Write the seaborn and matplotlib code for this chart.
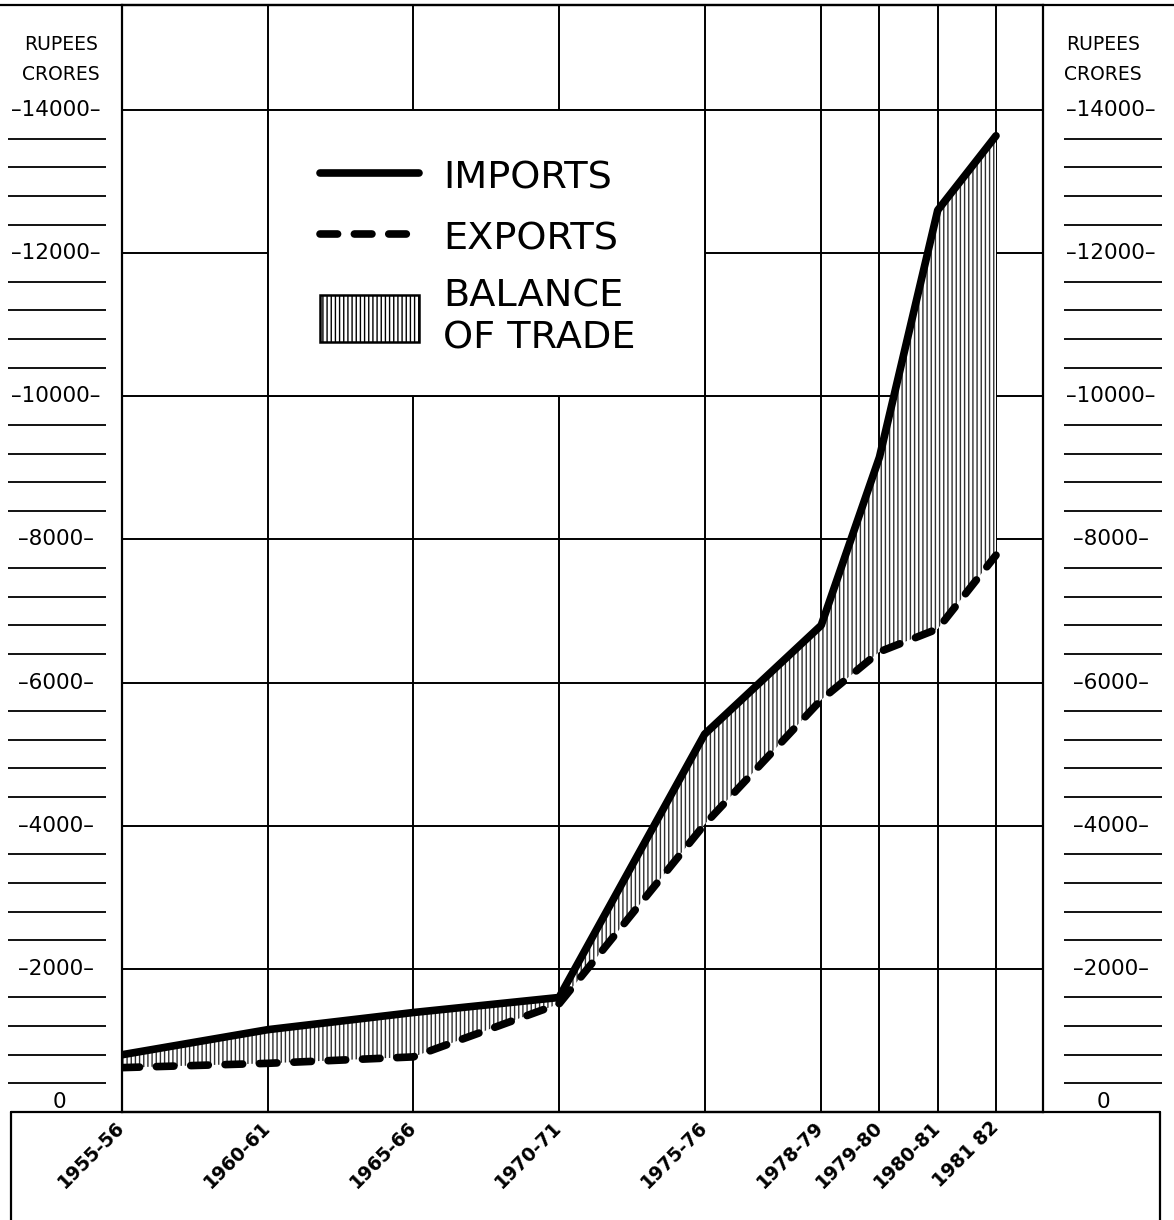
import matplotlib
matplotlib.use("Agg")
import matplotlib.pyplot as plt
import seaborn as sns
import pandas as pd
from matplotlib.patches import Patch, Rectangle
from matplotlib.lines import Line2D
from matplotlib.legend_handler import HandlerPatch

# ---------------- data ----------------
periods = ["1955-56", "1960-61", "1965-66", "1970-71", "1975-76",
           "1978-79", "1979-80", "1980-81", "1981 82"]
# horizontal scale used by the chart (non-uniform spacing of the periods)
axis_pos = [0, 5, 10, 15, 20, 24, 26, 28, 30]
imports = [800, 1150, 1390, 1600, 5280, 6800, 9150, 12600, 13640]
exports = [620, 680, 770, 1510, 4020, 5760, 6430, 6750, 7780]
major_ticks = [0, 2000, 4000, 6000, 8000, 10000, 12000, 14000]
minor_ticks = [v for v in range(400, 14000, 400) if v % 2000 != 0]
unit_lines = ["RUPEES", "CRORES"]
legend_labels = ["IMPORTS", "EXPORTS", "BALANCE\nOF TRADE"]

df = pd.DataFrame({"pos": axis_pos, "imports": imports, "exports": exports})

# ---------------- style ----------------
sns.set_theme(style="white", rc={"axes.edgecolor": "black", "text.color": "black",
                                 "xtick.color": "black", "ytick.color": "black"})
plt.rcParams["font.family"] = ["DejaVu Sans"]
plt.rcParams["hatch.linewidth"] = 1.0

W, H = 1174, 1220
fig = plt.figure(figsize=(W / 100, H / 100), dpi=100)
fig.patch.set_facecolor("white")

def fx(px):
    return px / W

def fy(py):
    return 1 - py / H

L, R, T, B = 122, 1043, 5, 1112
Y14 = 110
YMAX = 14000 * (B - T) / (B - Y14)
XMAX = 30 * (R - L) / (996 - L)

ax = fig.add_axes([fx(L), fy(B), (R - L) / W, (B - T) / H])
ax.set_xlim(0, XMAX)
ax.set_ylim(0, YMAX)

GRID_LW = 1.4
ax.set_axisbelow(True)
ax.set_xticks(axis_pos, periods)
ax.set_yticks(major_ticks)
ax.grid(True, color="black", lw=GRID_LW)
ax.tick_params(axis="y", left=False, labelleft=False)
ax.tick_params(axis="x", length=0, pad=9, labelsize=13.5)
for lbl in ax.get_xticklabels():
    lbl.set_rotation(45)
    lbl.set_ha("right")
    lbl.set_va("center")
    lbl.set_rotation_mode("anchor")
    lbl.set_fontweight("bold")
for s in ax.spines.values():
    s.set_color("black")
    s.set_linewidth(1.6)

# white legend panel (hides the grid between 1960-61 .. 1975-76 and 10000 .. 14000)
ax.add_patch(Rectangle((axis_pos[1], 10000), axis_pos[4] - axis_pos[1], 4000,
                       facecolor="white", edgecolor="none", zorder=1))
ax.vlines([axis_pos[1], axis_pos[4]], 10000, 14000, color="black", lw=GRID_LW, zorder=1.2)
ax.hlines([10000, 14000], axis_pos[1], axis_pos[4], color="black", lw=GRID_LW, zorder=1.2)

# balance of trade fill
HATCH = "||||"
ax.fill_between(df["pos"], df["exports"], df["imports"], facecolor="white",
                edgecolor="#303030", hatch=HATCH, lw=0, zorder=2)

LW = 5.5
DASH = (0, (2.3, 2.2))
sns.lineplot(data=df, x="pos", y="imports", ax=ax, color="black", lw=LW,
             zorder=3, legend=False, solid_capstyle="round")
sns.lineplot(data=df, x="pos", y="exports", ax=ax, color="black", lw=LW,
             linestyle=DASH, dash_capstyle="round", zorder=3, legend=False)
ax.set_xlabel("")
ax.set_ylabel("")


def tall_patch(legend, orig_handle, xdescent, ydescent, width, height, fontsize):
    h = height * 1.25
    return Rectangle((-xdescent, -ydescent - (h - height) / 2), width, h)


handles = [
    Line2D([], [], color="black", lw=LW, solid_capstyle="round"),
    Line2D([], [], color="black", lw=LW, linestyle=DASH, dash_capstyle="round"),
    Patch(facecolor="white", edgecolor="black", hatch=HATCH, lw=1.8),
]
leg = ax.legend(handles, legend_labels, loc="upper left",
                bbox_to_anchor=((320 - L) / (R - L), (B - 157) / (B - T)),
                frameon=False, fontsize=27.5, handlelength=2.6, handleheight=1.15,
                handletextpad=0.62, labelspacing=0.55, borderpad=0, borderaxespad=0,
                handler_map={Patch: HandlerPatch(patch_func=tall_patch)})
leg.set_zorder(5)

# ---------------- side scale columns ----------------
def scale_column(x0, x1, label_cx, line_x0, line_x1, zero_cx, unit_cx):
    a = fig.add_axes([fx(x0), fy(B), (x1 - x0) / W, (B - T) / H])
    a.set_xlim(x0, x1)
    a.set_ylim(0, YMAX)
    a.axis("off")
    a.hlines(minor_ticks, line_x0, line_x1, color="black", lw=1.3)
    for v in major_ticks[1:]:
        a.text(label_cx, v, f"\u2013{v}\u2013", ha="center", va="center",
               fontsize=15.5)
    a.text(zero_cx, 0, "0", ha="center", va="bottom", fontsize=15.5)
    fig.text(fx(unit_cx), fy(44), unit_lines[0], ha="center", va="center", fontsize=13.5)
    fig.text(fx(unit_cx), fy(74), unit_lines[1], ha="center", va="center", fontsize=13.5)

scale_column(0, L, 56, 8, 106, 59, 61)
scale_column(R, W, 1111, 1064, 1162, 1103, 1103)

# ---------------- frame lines ----------------
fig.add_artist(Line2D([0, 1], [fy(T), fy(T)], color="black", lw=1.6))
fig.add_artist(Line2D([fx(11), fx(1160)], [fy(B), fy(B)], color="black", lw=1.6))
fig.add_artist(Line2D([fx(11), fx(11)], [fy(B), 0], color="black", lw=1.6))
fig.add_artist(Line2D([fx(1160), fx(1160)], [fy(B), 0], color="black", lw=1.6))

fig.savefig("out.png", dpi=100, facecolor="white")
